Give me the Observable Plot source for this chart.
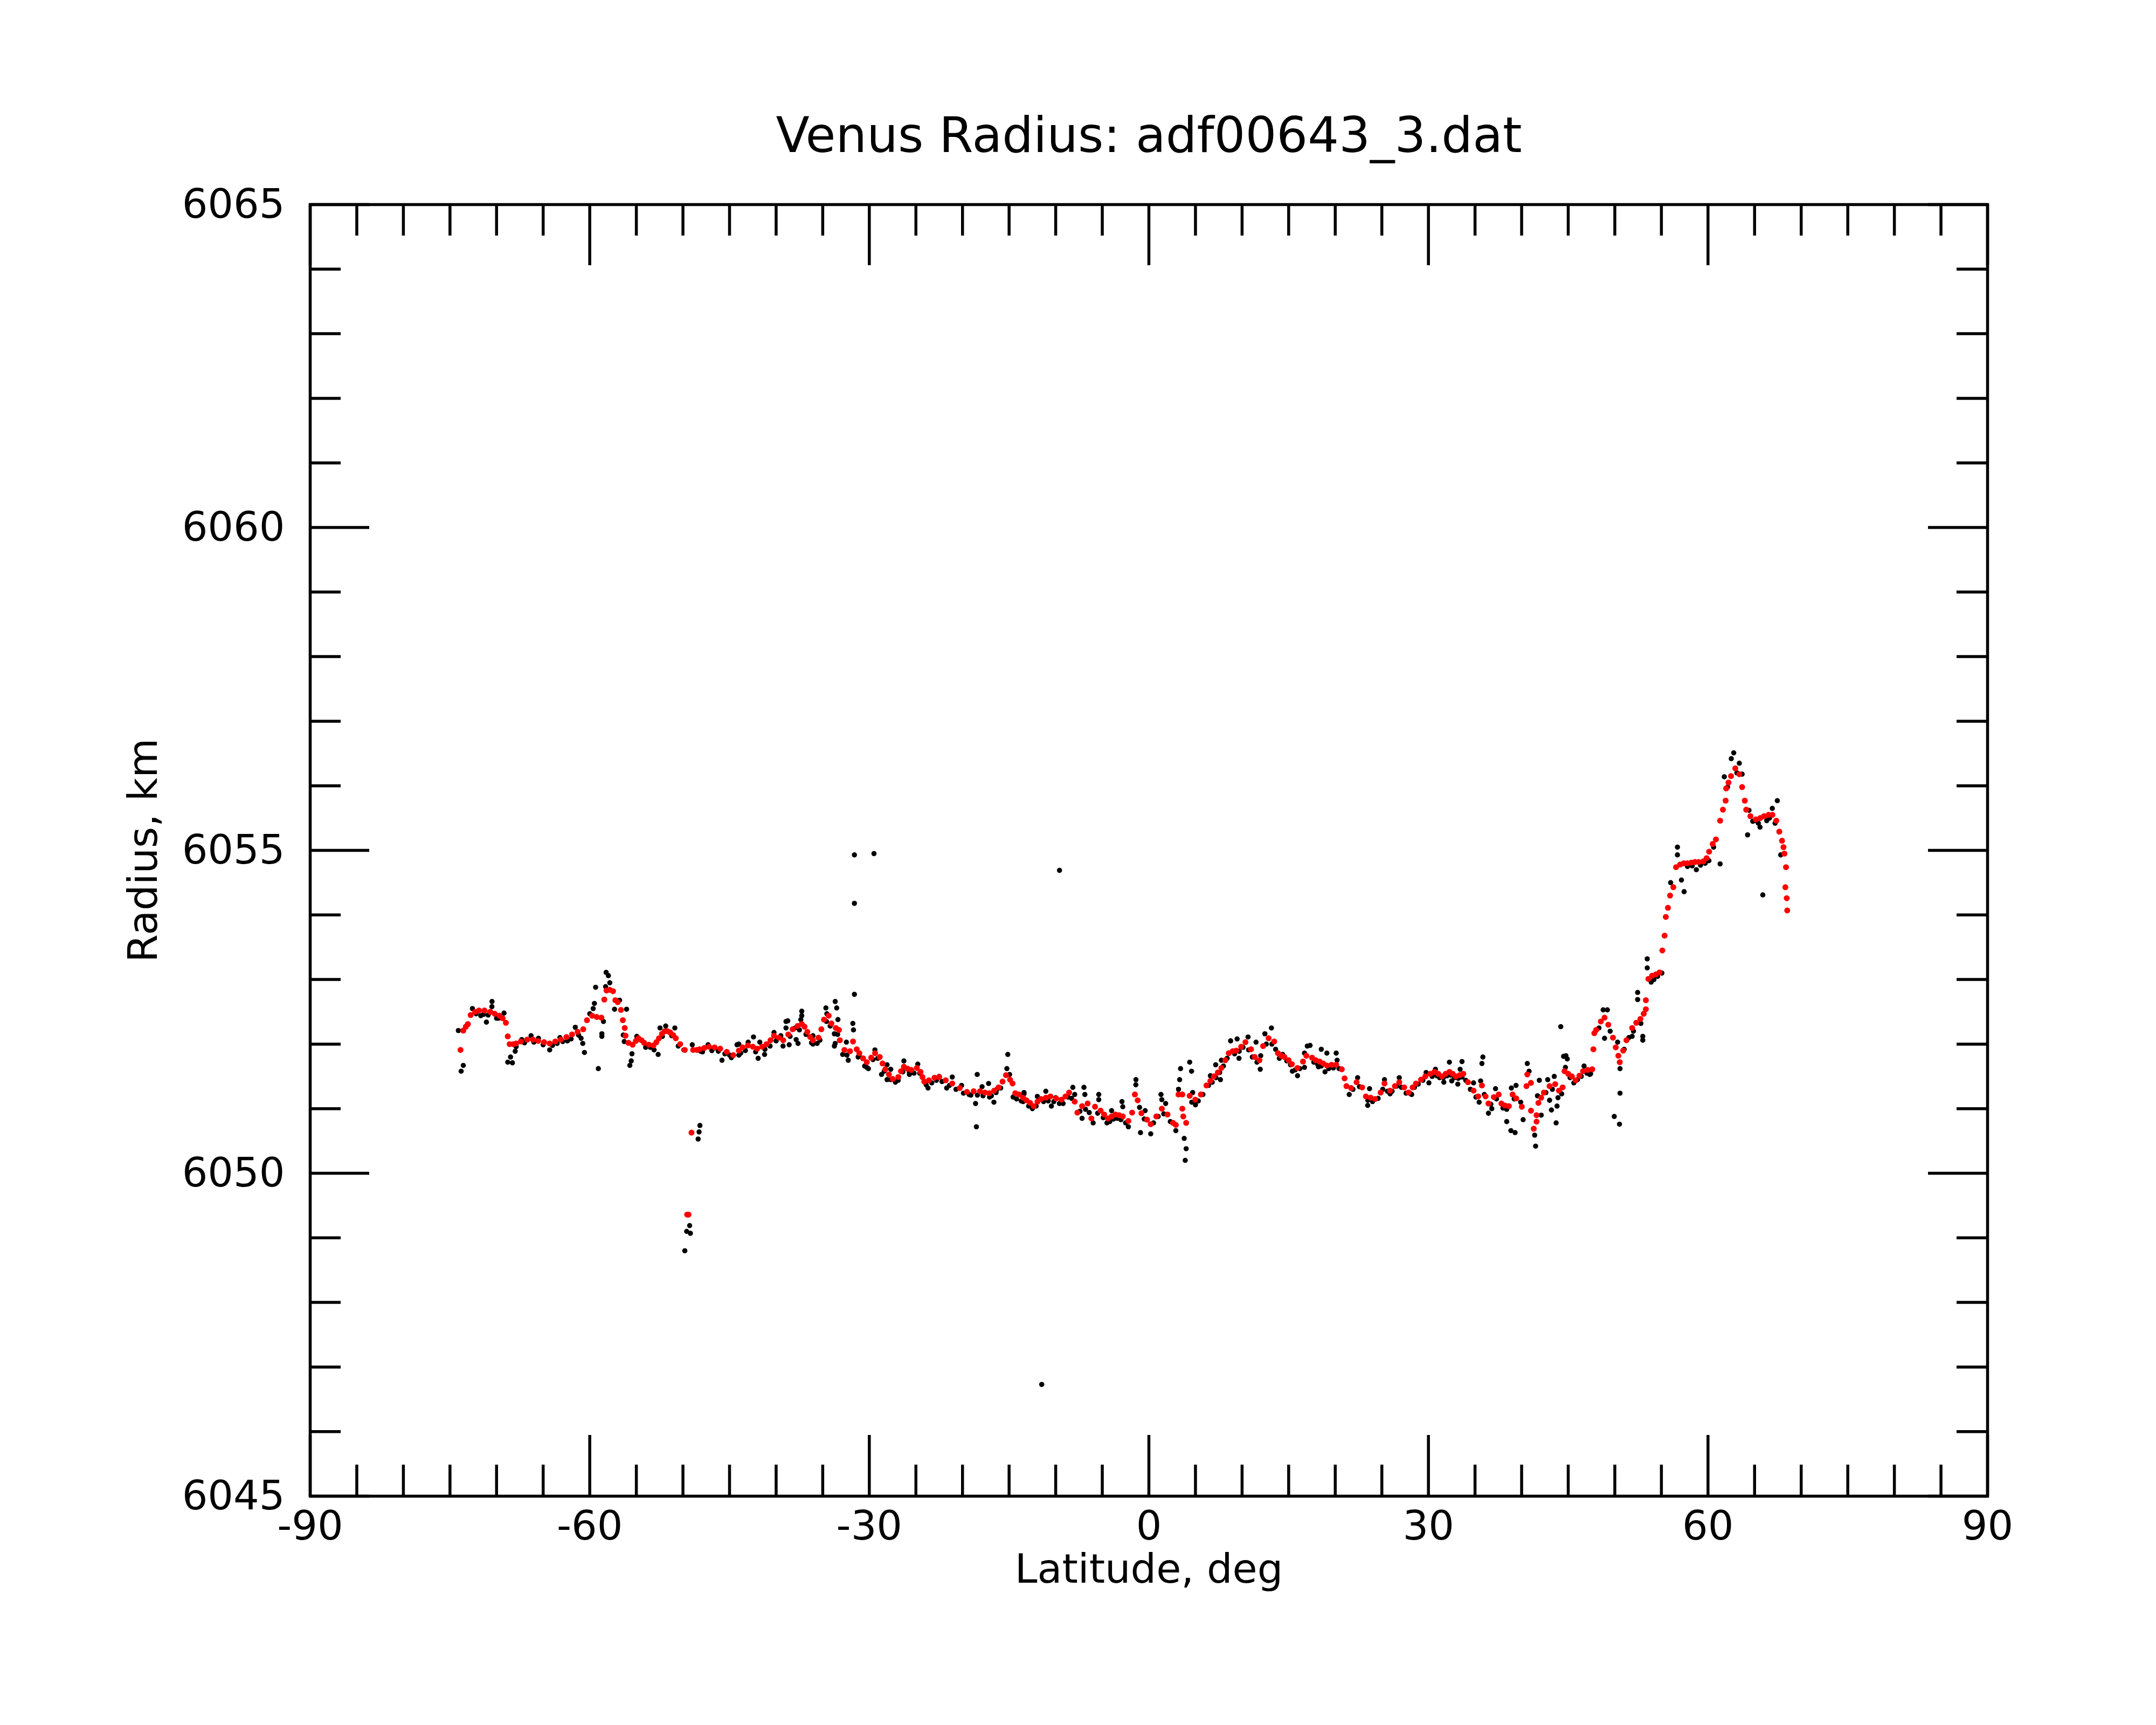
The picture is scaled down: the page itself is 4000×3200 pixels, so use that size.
<!DOCTYPE html>
<html><head><meta charset="utf-8">
<script src="https://cdn.jsdelivr.net/npm/d3@7"></script>
<script src="https://cdn.jsdelivr.net/npm/@observablehq/plot@0.6"></script>
<style>html,body{margin:0;padding:0;background:#fff;}</style>
</head><body><div id="chart"></div>
<script>
// Smoothed radius (red), [latitude deg, radius km]
const redPoints = [
[-73.87,6051.91],[-73.57,6052.21],[-73.3,6052.27],[-73.08,6052.31],[-72.78,6052.45],[-72.3,6052.50],[-71.89,6052.52],[-71.3,6052.52],[-70.68,6052.50],[-70.2,6052.47],[-69.70,6052.44],[-69.35,6052.40],[-69.0,6052.33],[-68.80,6052.12],[-68.6,6052.00],[-68.2,6052.00],[-67.9,6052.01],[-67.4,6052.04],[-66.71,6052.07],[-66.1,6052.07],[-65.53,6052.05],[-64.9,6052.03],[-64.3,6052.01],[-63.7,6052.04],[-63.1,6052.07],[-62.5,6052.11],[-61.9,6052.15],[-61.3,6052.19],[-60.7,6052.23],[-60.3,6052.37],[-59.75,6052.44],[-59.25,6052.42],[-58.75,6052.41],[-58.44,6052.69],[-58.2,6052.83],[-57.85,6052.84],[-57.5,6052.82],[-57.25,6052.68],[-57.0,6052.65],[-56.65,6052.53],[-56.45,6052.37],[-56.25,6052.25],[-56.16,6052.13],[-55.85,6052.02],[-55.4,6051.99],[-55.05,6052.05],[-54.78,6052.09],[-54.45,6052.06],[-54.16,6052.02],[-53.65,6051.99],[-53.16,6051.98],[-52.85,6052.03],[-52.57,6052.09],[-52.25,6052.16],[-51.96,6052.20],[-51.66,6052.20],[-51.36,6052.18],[-51.05,6052.14],[-50.77,6052.09],[-50.3,6052.00],[-49.80,6051.91],[-49.55,6049.36],[-49.40,6049.36],[-49.08,6050.63],[-48.9,6051.91],[-48.5,6051.91],[-48.2,6051.92],[-47.7,6051.94],[-47.2,6051.96],[-46.6,6051.95],[-46.0,6051.93],[-45.3,6051.88],[-44.6,6051.83],[-44.0,6051.90],[-43.6,6051.95],[-43.03,6051.98],[-42.5,6051.96],[-42.03,6051.93],[-41.5,6051.96],[-41.03,6052.00],[-40.6,6052.06],[-40.23,6052.13],[-39.7,6052.10],[-39.24,6052.06],[-38.7,6052.15],[-38.23,6052.23],[-37.7,6052.28],[-37.25,6052.31],[-36.95,6052.27],[-36.65,6052.19],[-36.35,6052.11],[-36.05,6052.06],[-35.46,6052.10],[-35.15,6052.23],[-34.86,6052.38],[-34.36,6052.44],[-34.07,6052.32],[-33.6,6052.25],[-33.26,6052.22],[-33.16,6052.06],[-32.67,6051.91],[-32.07,6051.89],[-31.75,6052.04],[-31.35,6051.92],[-31.07,6051.86],[-30.67,6051.78],[-30.27,6051.72],[-29.8,6051.79],[-29.38,6051.86],[-28.88,6051.80],[-28.58,6051.70],[-28.28,6051.61],[-27.9,6051.53],[-27.49,6051.46],[-26.89,6051.49],[-26.6,6051.58],[-26.29,6051.65],[-25.9,6051.62],[-25.5,6051.60],[-24.9,6051.63],[-24.5,6051.57],[-24.3,6051.49],[-24.1,6051.42],[-23.6,6051.44],[-23.0,6051.48],[-22.5,6051.49],[-21.8,6051.44],[-21.1,6051.39],[-20.3,6051.32],[-19.52,6051.26],[-18.8,6051.27],[-18.12,6051.27],[-17.6,6051.25],[-17.12,6051.24],[-16.6,6051.28],[-16.13,6051.33],[-15.7,6051.42],[-15.33,6051.52],[-14.9,6051.45],[-14.63,6051.39],[-14.34,6051.24],[-13.94,6051.22],[-13.5,6051.17],[-13.14,6051.13],[-12.75,6051.09],[-12.35,6051.04],[-11.95,6051.11],[-11.57,6051.15],[-11.05,6051.17],[-10.56,6051.19],[-9.95,6051.16],[-9.37,6051.14],[-8.95,6051.19],[-8.56,6051.25],[-7.96,6051.11],[-7.67,6050.94],[-7.17,6051.04],[-6.57,6051.08],[-6.17,6050.85],[-5.78,6051.03],[-5.18,6050.97],[-4.80,6050.91],[-4.40,6050.85],[-4.0,6050.88],[-3.59,6050.91],[-3.2,6050.90],[-2.8,6050.88],[-2.2,6050.81],[-1.8,6050.94],[-1.5,6051.22],[-1.2,6051.13],[-0.8,6050.93],[-0.2,6050.83],[0.2,6050.76],[0.8,6050.88],[1.39,6051.00],[2.0,6050.91],[2.59,6050.78],[2.89,6050.75],[3.18,6051.22],[3.59,6051.22],[3.59,6051.00],[3.69,6050.88],[4.0,6050.78],[4.38,6051.20],[4.98,6051.14],[5.58,6051.22],[6.18,6051.36],[6.6,6051.43],[6.97,6051.50],[7.4,6051.56],[7.78,6051.63],[8.2,6051.75],[8.57,6051.86],[9.0,6051.89],[9.37,6051.90],[9.9,6051.96],[10.36,6052.03],[10.96,6051.92],[11.36,6051.80],[11.86,6051.75],[12.26,6051.97],[12.85,6052.09],[13.45,6052.04],[13.85,6051.86],[14.2,6051.82],[14.55,6051.80],[15.0,6051.75],[15.34,6051.69],[15.94,6051.63],[16.54,6051.73],[16.9,6051.82],[17.51,6051.79],[17.9,6051.75],[18.31,6051.73],[18.7,6051.70],[19.09,6051.67],[19.6,6051.68],[20.10,6051.68],[20.70,6051.61],[21.0,6051.47],[21.2,6051.35],[21.7,6051.32],[22.29,6051.41],[22.89,6051.33],[23.29,6051.19],[23.8,6051.17],[24.28,6051.15],[24.87,6051.25],[25.28,6051.39],[25.88,6051.28],[26.4,6051.35],[26.87,6051.41],[27.4,6051.33],[27.86,6051.25],[28.3,6051.33],[28.66,6051.39],[29.2,6051.45],[29.66,6051.50],[30.2,6051.54],[30.65,6051.57],[31.05,6051.54],[31.45,6051.50],[31.85,6051.54],[32.25,6051.57],[32.6,6051.54],[32.94,6051.50],[33.35,6051.52],[33.74,6051.54],[34.24,6051.41],[34.84,6051.28],[35.34,6051.19],[35.74,6051.36],[36.13,6051.19],[36.44,6051.08],[37.02,6051.18],[37.54,6051.22],[37.83,6051.08],[38.2,6051.05],[38.63,6051.04],[39.03,6051.22],[39.42,6051.16],[40.02,6051.03],[40.52,6051.35],[40.61,6051.53],[41.0,6051.40],[41.0,6050.97],[41.3,6050.69],[41.6,6050.90],[41.6,6050.80],[41.80,6051.09],[42.1,6051.17],[42.39,6051.25],[43.0,6051.35],[43.6,6051.38],[44.0,6051.28],[44.4,6051.33],[44.6,6051.58],[45.0,6051.54],[45.39,6051.50],[45.80,6051.44],[46.2,6051.51],[46.59,6051.58],[47.1,6051.60],[47.58,6051.61],[47.7,6051.92],[47.8,6052.17],[48.0,6052.22],[48.5,6052.35],[48.9,6052.41],[49.3,6052.30],[49.8,6052.10],[50.1,6051.95],[50.38,6051.82],[50.53,6051.72],[50.9,6051.90],[51.25,6052.06],[51.86,6052.25],[52.3,6052.33],[52.75,6052.39],[53.1,6052.47],[53.33,6052.54],[53.33,6052.68],[53.6,6053.01],[54.0,6053.06],[54.4,6053.08],[54.8,6053.11],[55.1,6053.45],[55.34,6053.68],[55.47,6053.97],[55.7,6054.11],[55.93,6054.30],[56.28,6054.43],[56.57,6054.74],[57.0,6054.78],[57.4,6054.80],[57.76,6054.80],[58.2,6054.81],[58.6,6054.82],[59.0,6054.82],[59.5,6054.83],[59.85,6054.88],[60.12,6054.98],[60.5,6055.10],[60.85,6055.17],[61.3,6055.46],[61.6,6055.63],[61.89,6055.77],[61.95,6055.96],[62.2,6056.05],[62.47,6056.15],[62.93,6056.27],[63.36,6056.18],[63.66,6055.98],[63.95,6055.77],[64.1,6055.63],[64.55,6055.53],[65.13,6055.48],[65.6,6055.50],[66.02,6055.53],[66.5,6055.55],[66.91,6055.55],[67.33,6055.46],[67.65,6055.29],[67.94,6055.15],[68.1,6055.05],[68.2,6054.95],[68.37,6054.74],[68.3,6054.43],[68.45,6054.26],[68.5,6054.07]
];
// Raw radius (black), [latitude deg, radius km]
const blackPoints = [
[-74.1,6052.21],[-73.57,6051.67],[-73.8,6051.58],[-72.59,6052.55],[-71.69,6052.44],[-71.09,6052.34],[-70.49,6052.66],[-70.5,6052.58],[-69.8,6052.40],[-69.2,6052.48],[-68.5,6051.80],[-68.8,6051.72],[-68.3,6051.71],[-68.0,6051.89],[-67.3,6052.07],[-66.3,6052.13],[-65.5,6052.09],[-64.3,6051.91],[-63.2,6052.10],[-62.4,6052.05],[-61.55,6052.26],[-60.93,6052.09],[-60.75,6052.01],[-60.57,6051.87],[-60.0,6052.47],[-59.63,6052.55],[-59.5,6052.63],[-59.37,6052.88],[-59.08,6051.62],[-58.7,6052.16],[-58.7,6052.12],[-58.53,6052.35],[-58.24,6053.11],[-58.0,6053.06],[-57.85,6052.95],[-58.3,6052.89],[-57.34,6052.54],[-56.8,6052.68],[-56.05,6052.54],[-56.4,6052.14],[-56.3,6052.04],[-55.47,6051.85],[-55.55,6051.74],[-55.7,6051.67],[-54.95,6052.12],[-54.0,6051.95],[-53.1,6051.91],[-52.66,6051.84],[-52.46,6052.25],[-51.85,6052.28],[-50.87,6052.25],[-50.5,6051.97],[-49.9,6051.91],[-48.18,6050.74],[-48.27,6050.64],[-48.37,6050.53],[-49.28,6049.19],[-49.6,6049.10],[-49.2,6049.07],[-49.8,6048.80],[-49.0,6051.99],[-48.1,6051.89],[-47.3,6051.99],[-46.6,6051.94],[-45.81,6051.75],[-45.0,6051.83],[-44.2,6051.99],[-44.0,6051.83],
[-72.2,6052.47],[-71.4,6052.46],[-70.9,6052.45],[-70.0,6052.40],[-67.9,6051.96],[-67.0,6052.02],[-66.0,6052.03],[-65.0,6051.99],[-64.0,6051.98],[-63.5,6052.01],[-62.9,6052.04],[-62.0,6052.08],[-61.2,6052.14],[-53.5,6051.95],[-52.2,6052.12],[-51.2,6052.13],[-47.9,6051.88],[-46.9,6051.90],[-46.2,6051.89],[-45.5,6051.85],[-44.8,6051.79],
[-44.0,6052.00],[-43.8,6051.86],[-43.0,6052.03],[-42.43,6052.11],[-41.93,6051.78],[-41.75,6052.03],[-41.24,6051.84],[-40.65,6051.97],[-40.23,6052.18],[-39.5,6052.13],[-39.26,6051.97],[-38.94,6052.35],[-38.75,6052.36],[-38.94,6052.25],[-38.6,6051.99],[-37.95,6052.25],[-37.85,6052.07],[-37.65,6052.01],[-37.25,6052.51],[-37.25,6052.44],[-37.35,6052.38],[-36.05,6052.13],[-36.05,6052.00],[-35.6,6052.01],[-34.66,6052.56],[-34.56,6052.47],[-33.66,6052.66],[-33.5,6052.56],[-33.37,6052.38],[-33.75,6052.16],[-33.66,6052.01],[-33.75,6051.97],[-32.86,6051.84],[-32.26,6051.75],[-32.46,6052.03],[-31.77,6052.32],[-31.7,6052.22],[-31.6,6052.77],[-31.07,6051.84],[-30.27,6051.64],[-30.1,6051.62],[-29.4,6051.91],[-28.69,6051.53],[-28.1,6051.45],[-28.1,6051.68],[-27.7,6051.61],[-26.9,6051.44],[-26.29,6051.74],[-25.7,6051.53],[-24.8,6051.69],[-23.7,6051.32],[-22.5,6051.50],[-21.7,6051.32],[-21.1,6051.49],[-20.1,6051.36],[-19.3,6051.22],[-18.6,6051.08],[-18.42,6051.53],[-18.51,6050.72],[-17.9,6051.34],[-17.2,6051.39],[-17.1,6051.18],[-16.63,6051.10],[-16.3,6051.30],[-15.24,6051.62],[-15.14,6051.84],[-14.95,6051.53],[-14.57,6051.18],[-13.4,6051.23],
[-13.4,6051.25],[-13.5,6051.11],[-11.97,6051.19],[-11.06,6051.27],[-10.46,6051.04],[-10.0,6051.17],[-9.2,6051.08],[-8.16,6051.33],[-7.96,6051.22],[-7.17,6050.85],[-6.97,6051.33],[-6.87,6051.22],[-5.98,6050.78],[-5.38,6051.22],[-5.38,6051.14],[-4.5,6050.78],[-4.0,6050.97],[-2.89,6051.11],[-2.8,6051.03],[-2.2,6050.72],[-1.39,6051.45],[-1.4,6051.37],[-0.9,6050.63],[-0.4,6050.97],[0.2,6050.61],[1.3,6051.22],[1.39,6051.14],[1.8,6051.08],[2.89,6050.66],[3.18,6051.30],[3.3,6051.45],[3.4,6051.62],[3.79,6050.54],[4.0,6050.38],[3.9,6050.20],[4.38,6051.72],[4.58,6051.58],[4.7,6051.25],[5.0,6051.06],[6.6,6051.51],[7.17,6051.68],[7.78,6051.75],[7.68,6051.45],[8.77,6052.05],[9.47,6052.08],[9.67,6051.78],[10.64,6052.11],[11.5,6052.03],[11.95,6051.61],[12.45,6052.16],[13.15,6052.25],[14.35,6051.84],[15.4,6051.58],[15.95,6051.51],[17.0,6051.97],[16.7,6051.86],
[17.3,6051.98],[18.5,6051.92],[19.1,6051.86],[20.1,6051.86],[16.7,6051.64],[18.2,6051.65],[18.9,6051.57],[20.2,6051.75],[21.5,6051.22],[22.4,6051.48],[23.48,6051.05],[23.68,6051.31],[25.28,6051.45],[25.88,6051.23],[26.87,6051.48],[28.2,6051.22],[29.75,6051.56],[30.05,6051.40],[30.75,6051.61],[31.65,6051.41],[32.25,6051.72],[32.5,6051.43],[33.15,6051.38],[33.6,6051.73],[33.4,6051.61],[34.84,6051.40],[35.44,6051.10],[35.84,6051.80],[35.74,6051.70],[35.6,6051.43],[36.44,6050.93],[37.2,6051.31],[36.8,6051.00],[38.4,6050.80],[38.85,6050.66],[39.3,6050.63],[38.9,6051.32],[39.4,6051.36],[39.9,6051.10],[40.16,6050.83],[40.61,6051.70],[40.8,6051.58],[41.4,6050.59],[41.5,6050.42],[41.9,6051.44],[41.7,6051.20],[42.1,6050.90],[42.8,6051.45],[43.0,6051.13],[43.2,6050.98],[43.5,6051.50],[43.8,6051.04],[43.7,6050.78],[43.9,6051.17],[44.2,6052.27],[44.5,6051.81],[44.7,6051.64],[44.3,6051.23],[45.6,6051.40],[46.7,6051.66],[47.3,6051.53],
[-43.3,6051.90],[-42.2,6051.88],[-41.2,6051.92],[-40.0,6052.05],[-38.5,6052.12],[-37.5,6052.22],[-36.8,6052.15],[-36.2,6052.02],[-35.3,6052.06],[-34.6,6052.35],[-34.2,6052.28],[-33.4,6052.15],[-32.4,6051.83],[-31.2,6051.80],[-30.5,6051.66],[-29.6,6051.76],[-29.1,6051.78],[-28.4,6051.58],[-27.7,6051.45],[-27.2,6051.41],[-26.4,6051.57],[-25.7,6051.56],[-25.2,6051.55],[-24.6,6051.55],[-23.9,6051.37],[-23.3,6051.40],[-22.8,6051.44],[-22.2,6051.42],[-21.4,6051.36],[-20.7,6051.30],[-19.9,6051.24],[-19.1,6051.21],[-18.4,6051.21],[-17.8,6051.20],[-16.9,6051.20],[-16.4,6051.25],[-15.9,6051.32],[-14.2,6051.15],[-13.7,6051.12],[-12.9,6051.04],[-12.5,6051.00],[-12.1,6051.04],[-11.3,6051.11],[-10.8,6051.12],[-10.2,6051.11],[-9.6,6051.08],[-8.7,6051.18],[-8.3,6051.16],[-7.4,6050.96],[-6.8,6050.99],[-6.4,6050.94],[-5.5,6050.93],[-4.9,6050.86],[-4.2,6050.80],[-3.8,6050.84],[-3.4,6050.85],[-3.0,6050.83],[-2.5,6050.78],[-1.0,6051.02],[-0.5,6050.84],[0.5,6050.78],[1.0,6050.88],[1.6,6050.92],[2.3,6050.80],[4.6,6051.10],[5.3,6051.12],[5.8,6051.22],[6.4,6051.36],[6.8,6051.41],[7.2,6051.48],[7.6,6051.56],[8.0,6051.66],[8.4,6051.78],[9.2,6051.85],[9.7,6051.89],[10.1,6051.95],[10.7,6051.91],[11.1,6051.80],[11.6,6051.72],[12.0,6051.82],[12.6,6052.00],[13.2,6052.00],[13.6,6051.92],[14.0,6051.78],[14.8,6051.74],[15.2,6051.68],[15.7,6051.60],[16.2,6051.62],[17.7,6051.72],[18.1,6051.69],[18.5,6051.66],[19.3,6051.62],[19.8,6051.63],[20.4,6051.62],[21.9,6051.30],[22.6,6051.34],[23.5,6051.13],[24.0,6051.11],[24.6,6051.16],[25.1,6051.30],[25.6,6051.27],[26.1,6051.27],[26.6,6051.35],[27.1,6051.33],[27.6,6051.24],[28.0,6051.24],[28.5,6051.33],[28.9,6051.38],[29.4,6051.44],[30.4,6051.50],[30.9,6051.51],[31.2,6051.48],[31.6,6051.48],[32.0,6051.51],[32.4,6051.52],[32.8,6051.48],[33.2,6051.47],[33.6,6051.49],[34.0,6051.44],[34.5,6051.30],[35.1,6051.18],[36.0,6051.22],[36.7,6051.07],[37.3,6051.15],[38.0,6051.01],[38.4,6050.99],[39.2,6051.15],[42.6,6051.25],[43.3,6051.30],[45.2,6051.48],[46.0,6051.45],[46.4,6051.50],[47.0,6051.55],
[44.75,6051.82],[44.9,6051.77],[47.4,6051.54],[48.75,6052.53],[49.2,6052.53],[48.9,6052.09],[50.3,6052.03],[50.56,6051.62],[50.56,6051.24],[49.94,6050.88],[50.5,6050.76],[51.86,6052.12],[53.0,6052.12],[53.0,6052.06],[52.45,6052.80],[52.45,6052.69],[53.48,6053.32],[53.48,6053.18],[53.9,6052.96],[55.05,6053.10],[55.99,6054.50],[56.72,6055.05],[56.72,6054.93],[57.44,6054.36],[57.15,6054.54],[58.75,6054.70],[60.1,6054.84],[61.3,6054.79],[62.76,6056.51],[62.5,6056.42],[63.36,6056.35],[61.75,6056.14],[63.66,6056.18],[64.25,6055.24],[64.4,6055.62],[65.0,6055.46],[65.58,6055.36],[65.88,6054.31],[66.3,6055.46],[66.9,6055.65],[67.44,6055.77],[67.8,6054.93],
[48.3,6052.25],[49.5,6052.20],[51.0,6051.92],[51.5,6052.10],[52.0,6052.20],[52.8,6052.32],[54.2,6053.00],[54.6,6053.05],[57.8,6054.75],[58.3,6054.76],[59.2,6054.77],[59.7,6054.80],[60.6,6055.05],[62.1,6055.98],[63.1,6056.20],[64.8,6055.45],[65.4,6055.42],[66.6,6055.50],[67.2,6055.42],
[-31.6,6054.93],[-31.6,6054.18],[-29.5,6054.95],[-9.59,6054.69],[-11.5,6046.73]
];
const xMajorTicks = [-90,-60,-30,0,30,60,90];
const xMinorTicks = [-85,-80,-75,-70,-65,-55,-50,-45,-40,-35,-25,-20,-15,-10,-5,5,10,15,20,25,35,40,45,50,55,65,70,75,80,85];
const yMajorTicks = [6045,6050,6055,6060,6065];
const yMinorTicks = [6046,6047,6048,6049,6051,6052,6053,6054,6056,6057,6058,6059,6061,6062,6063,6064];
const xTickLabels = ["-90","-60","-30","0","30","60","90"];
const yTickLabels = ["6045","6050","6055","6060","6065"];
const titleText = "Venus Radius: adf00643_3.dat";
const xLabel = "Latitude, deg";
const yLabel = "Radius, km";

const W = 4000, H = 3200;
const mL = 575, mR = 313, mT = 379, mB = 425;
const fw = W - mL - mR, fh = H - mT - mB;
const lw = 5.5, font = "DejaVu Sans";
const red = redPoints.map(([lat, r]) => ({lat, r}));
const black = blackPoints.map(([lat, r]) => ({lat, r}));

const chart = Plot.plot({
  width: W, height: H,
  marginLeft: mL, marginRight: mR, marginTop: mT, marginBottom: mB,
  style: {background: "#fff", fontFamily: font},
  x: {domain: [-90, 90], axis: null},
  y: {domain: [6045, 6065], axis: null},
  marks: [
    Plot.dot(black, {x: "lat", y: "r", r: 4.8, fill: "#000", stroke: "none"}),
    Plot.dot(red, {x: "lat", y: "r", r: 5.5, fill: "#ff0000", stroke: "none"}),
    // ticks, bottom and top
    Plot.ruleX(xMinorTicks, {x: d => d, insetTop: fh - 58, stroke: "#000", strokeWidth: lw}),
    Plot.ruleX(xMinorTicks, {x: d => d, insetBottom: fh - 58, stroke: "#000", strokeWidth: lw}),
    Plot.ruleX(xMajorTicks, {x: d => d, insetTop: fh - 113, stroke: "#000", strokeWidth: lw}),
    Plot.ruleX(xMajorTicks, {x: d => d, insetBottom: fh - 113, stroke: "#000", strokeWidth: lw}),
    // ticks, left and right
    Plot.ruleY(yMinorTicks, {y: d => d, insetRight: fw - 57, stroke: "#000", strokeWidth: lw}),
    Plot.ruleY(yMinorTicks, {y: d => d, insetLeft: fw - 57, stroke: "#000", strokeWidth: lw}),
    Plot.ruleY(yMajorTicks, {y: d => d, insetRight: fw - 110, stroke: "#000", strokeWidth: lw}),
    Plot.ruleY(yMajorTicks, {y: d => d, insetLeft: fw - 110, stroke: "#000", strokeWidth: lw}),
    Plot.frame({stroke: "#000", strokeWidth: lw}),
    // tick labels
    Plot.text(xMajorTicks, {x: d => d, text: (d, i) => xTickLabels[i], frameAnchor: "bottom", lineAnchor: "top", dy: 27, fontSize: 75, fill: "#000", fontFamily: font}),
    Plot.text(yMajorTicks, {y: d => d, text: (d, i) => yTickLabels[i], frameAnchor: "left", textAnchor: "end", dx: -47, fontSize: 75, fill: "#000", fontFamily: font}),
    // title and axis labels
    Plot.text([titleText], {text: d => d, frameAnchor: "top", lineAnchor: "middle", dy: -127, fontSize: 91, fill: "#000", fontFamily: font}),
    Plot.text([xLabel], {text: d => d, frameAnchor: "bottom", lineAnchor: "top", dy: 107, fontSize: 75, fill: "#000", fontFamily: font}),
    Plot.text([yLabel], {text: d => d, frameAnchor: "left", textAnchor: "middle", rotate: -90, dx: -309, fontSize: 75, fill: "#000", fontFamily: font})
  ]
});
document.getElementById("chart").appendChild(chart);
</script>
</body></html>
